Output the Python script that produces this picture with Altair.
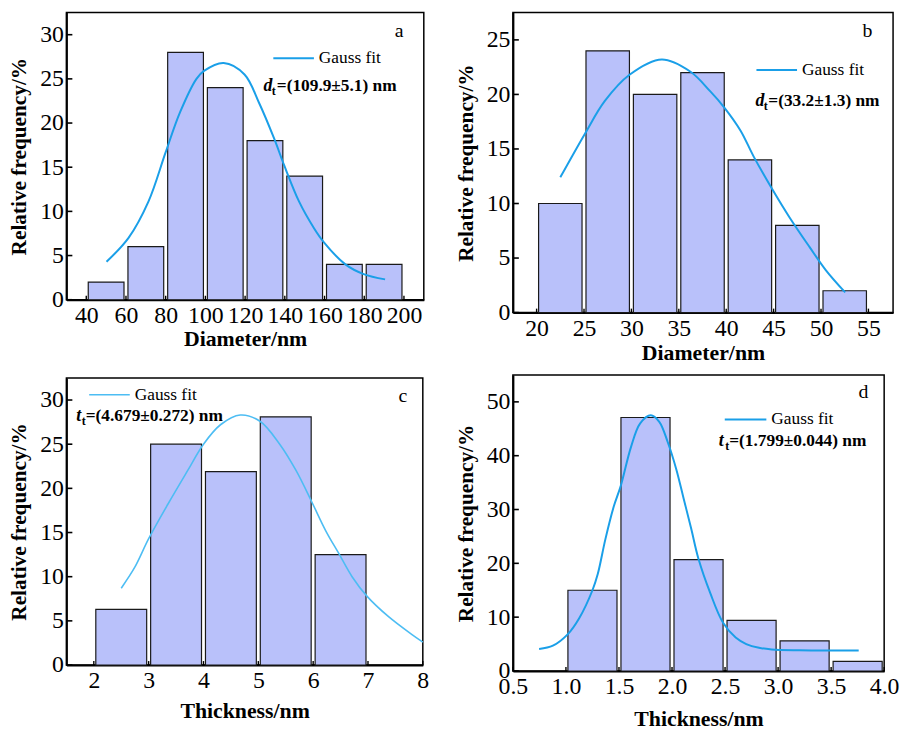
import altair as alt
import pandas as pd

FONT = "Liberation Serif"
BAR_FILL = "#b9c1fa"
BAR_STROKE = "#1a1a1a"

# ---------------- data ----------------
# panel a
A_LO = [40, 60, 80, 100, 120, 140, 160, 180]
A_HI = [60, 80, 100, 120, 140, 160, 180, 200]
A_FREQ = [2, 6, 28, 24, 18, 14, 4, 4]
A_FIT_X = [50.2, 61.3, 71.3, 80.0, 87.2, 95.5, 99.3, 109.2, 119.7, 127.0, 134.7, 139.7, 147.2, 154.7, 159.7, 170.5, 179.7, 190.5]
A_FIT_Y = [4.3, 7.0, 11.1, 16.7, 21.2, 25.0, 25.9, 26.8, 25.5, 22.3, 18.2, 15.2, 11.1, 8.1, 6.5, 4.0, 2.9, 2.3]
A_XTICKS = [40, 60, 80, 100, 120, 140, 160, 180, 200]
A_YTICKS = [0, 5, 10, 15, 20, 25, 30]

# panel b
B_LO = [20, 25, 30, 35, 40, 45, 50]
B_HI = [25, 30, 35, 40, 45, 50, 55]
B_FREQ = [10, 24, 20, 22, 14, 8, 2]
B_FIT_X = [22.5, 25.1, 27.2, 29.8, 33.2, 36.2, 38.3, 39.8, 41.5, 42.9, 44.8, 46.7, 48.8, 50.5, 52.55]
B_FIT_Y = [12.4, 16.4, 19.4, 21.8, 23.2, 22.1, 20.3, 18.8, 16.7, 14.3, 11.4, 8.7, 6.0, 3.9, 1.85]
B_XTICKS = [20, 25, 30, 35, 40, 45, 50, 55]
B_YTICKS = [0, 5, 10, 15, 20, 25]

# panel c
C_LO = [2, 3, 4, 5, 6]
C_HI = [3, 4, 5, 6, 7]
C_FREQ = [6.3, 25.0, 21.9, 28.1, 12.5]
C_FIT_X = [2.5, 2.75, 3.0, 3.35, 3.71, 4.0, 4.31, 4.67, 5.03, 5.39, 5.69, 5.98, 6.23, 6.47, 6.71, 6.98, 7.37, 7.79, 8.0]
C_FIT_Y = [8.7, 11.1, 14.3, 18.2, 22.0, 25.0, 27.2, 28.3, 27.6, 25.0, 22.0, 18.4, 15.2, 12.6, 10.0, 7.8, 5.5, 3.5, 2.6]
C_XTICKS = [2, 3, 4, 5, 6, 7, 8]
C_YTICKS = [0, 5, 10, 15, 20, 25, 30]

# panel d
D_LO = [1.0, 1.5, 2.0, 2.5, 3.0, 3.5]
D_HI = [1.5, 2.0, 2.5, 3.0, 3.5, 4.0]
D_FREQ = [15.0, 47.1, 20.7, 9.4, 5.6, 1.8]
D_FIT_X = [0.747, 0.877, 1.016, 1.125, 1.25, 1.30, 1.372, 1.45, 1.517, 1.613, 1.70, 1.80, 1.88, 1.96, 2.04, 2.11, 2.18, 2.25, 2.36, 2.48, 2.60, 2.70, 2.82, 2.94, 3.2, 3.5, 3.76]
D_FIT_Y = [4.1, 4.7, 6.8, 9.8, 15.0, 18.0, 24.5, 30.5, 34.4, 41.6, 46.0, 47.5, 46.3, 42.5, 37.5, 32.0, 26.5, 20.8, 14.5, 9.0, 6.2, 5.0, 4.3, 4.0, 3.85, 3.8, 3.8]
D_XTICKS = [0.5, 1.0, 1.5, 2.0, 2.5, 3.0, 3.5, 4.0]
D_YTICKS = [0, 10, 20, 30, 40, 50]

Y_TITLE = "Relative frequency/%"


def one_row():
    return pd.DataFrame({"k": [0]})


def panel(lo, hi, freq, fx, fy, xdom, ydom, xticks, yticks, xtitle, xfmt,
          w, h, color, lw, legend, annot, letter, xtitle_pad):
    xs = alt.Scale(domain=xdom, nice=False, zero=False)
    ys = alt.Scale(domain=ydom, nice=False, zero=False)
    xaxis = alt.Axis(values=xticks, format=xfmt, title=xtitle, grid=False, ticks=False,
                     domain=True, domainColor="black", domainWidth=2,
                     labelFont=FONT, labelFontSize=24, labelColor="black", labelPadding=4,
                     labelFlush=False, labelOverlap=False,
                     titleFont=FONT, titleFontSize=22, titleFontWeight="bold",
                     titleColor="black", titlePadding=xtitle_pad)
    yaxis = alt.Axis(values=yticks, format="d", title=Y_TITLE, grid=False, ticks=False,
                     domain=True, domainColor="black", domainWidth=2,
                     labelFont=FONT, labelFontSize=24, labelColor="black", labelPadding=3,
                     labelFlush=False, labelOverlap=False,
                     titleFont=FONT, titleFontSize=21.5, titleFontWeight="bold",
                     titleColor="black", titlePadding=9)

    bars_df = pd.DataFrame({"lo": lo, "hi": hi, "f": freq})
    bars_df["z"] = 0
    fit_df = pd.DataFrame({"x": fx, "y": fy})

    bars = alt.Chart(bars_df).mark_rect(
        fill=BAR_FILL, stroke=BAR_STROKE, strokeWidth=1.2, xOffset=2, x2Offset=-2
    ).encode(
        x=alt.X("lo:Q", scale=xs, axis=xaxis), x2="hi:Q",
        y=alt.Y("f:Q", scale=ys, axis=yaxis), y2="z:Q",
    )
    fit = alt.Chart(fit_df).mark_line(
        color=color, strokeWidth=lw, interpolate="catmull-rom"
    ).encode(
        x=alt.X("x:Q", scale=xs, axis=xaxis),
        y=alt.Y("y:Q", scale=ys, axis=yaxis),
    )
    yt = alt.Chart(pd.DataFrame({"t": yticks})).mark_rule(color="black", strokeWidth=1.6).encode(
        y=alt.Y("t:Q", scale=ys, axis=yaxis), x=alt.value(0), x2=alt.value(6))
    xt = alt.Chart(pd.DataFrame({"t": xticks})).mark_rule(color="black", strokeWidth=1.4).encode(
        x=alt.X("t:Q", scale=xs, axis=xaxis), y=alt.value(h), y2=alt.value(h - 4))

    lx1, lx2, ly, tx = legend
    leg_line = alt.Chart(one_row()).mark_rule(color=color, strokeWidth=lw).encode(
        x=alt.value(lx1), x2=alt.value(lx2), y=alt.value(ly))
    leg_text = alt.Chart(one_row()).mark_text(
        text="Gauss fit", font=FONT, fontSize=17.5, align="left", baseline="middle", color="black"
    ).encode(x=alt.value(tx), y=alt.value(ly))

    sym, ax, base, subx, restx, rest = annot
    a1 = alt.Chart(one_row()).mark_text(
        text=sym, font=FONT, fontSize=18, fontStyle="italic", fontWeight="bold",
        align="left", baseline="alphabetic", color="black"
    ).encode(x=alt.value(ax), y=alt.value(base))
    a2 = alt.Chart(one_row()).mark_text(
        text="t", font=FONT, fontSize=12, fontWeight="bold",
        align="left", baseline="alphabetic", color="black"
    ).encode(x=alt.value(subx), y=alt.value(base + 4))
    a3 = alt.Chart(one_row()).mark_text(
        text=rest, font=FONT, fontSize=17.5, fontWeight="bold",
        align="left", baseline="alphabetic", color="black"
    ).encode(x=alt.value(restx), y=alt.value(base))

    ltxt, lxp, lyp = letter
    let = alt.Chart(one_row()).mark_text(
        text=ltxt, font=FONT, fontSize=20, align="center", baseline="middle", color="black"
    ).encode(x=alt.value(lxp), y=alt.value(lyp))

    return alt.layer(bars, fit, yt, xt, leg_line, leg_text, a1, a2, a3, let).properties(
        width=w, height=h)


pa = panel(A_LO, A_HI, A_FREQ, A_FIT_X, A_FIT_Y, [30, 210], [0, 32.5], A_XTICKS, A_YTICKS,
           "Diameter/nm", "d", 361, 290, "#1a9fe8", 2,
           (209, 250, 46, 255), ("d", 199, 79, 207.5, 212.5, "=(109.9±5.1) nm"),
           ("a", 336, 19), 1)
pb = panel(B_LO, B_HI, B_FREQ, B_FIT_X, B_FIT_Y, [17.5, 57.6], [0, 27.5], B_XTICKS, B_YTICKS,
           "Diameter/nm", "d", 384, 303, "#1a9fe8", 2,
           (246, 287, 58, 292), ("d", 245, 94, 253.5, 258, "=(33.2±1.3) nm"),
           ("b", 358, 19), 2)
pc = panel(C_LO, C_HI, C_FREQ, C_FIT_X, C_FIT_Y, [1.5, 8.0], [0, 32.5], C_XTICKS, C_YTICKS,
           "Thickness/nm", "d", 360, 290, "#4dbdf3", 1.6,
           (23, 64, 17, 69), ("t", 10, 44, 15.5, 19.5, "=(4.679±0.272) nm"),
           ("c", 340, 18), 8)
pd_ = panel(D_LO, D_HI, D_FREQ, D_FIT_X, D_FIT_Y, [0.5, 4.0], [0, 55], D_XTICKS, D_YTICKS,
            "Thickness/nm", ".1f", 375, 299, "#1a9fe8", 2,
            (214, 256, 45, 261), ("t", 208, 72, 214.5, 218.5, "=(1.799±0.044) nm"),
            ("d", 354, 17), 10)

chart = alt.hconcat(
    alt.vconcat(pa, pc, spacing=27),
    alt.vconcat(pb, pd_, spacing=10),
    spacing=25,
).properties(
    padding={"left": 0, "top": 0, "right": 0, "bottom": 0},
    background="white",
).configure_view(stroke="black", strokeWidth=1.5)

chart.save("out.html", embed_options={"renderer": "svg", "actions": False})
